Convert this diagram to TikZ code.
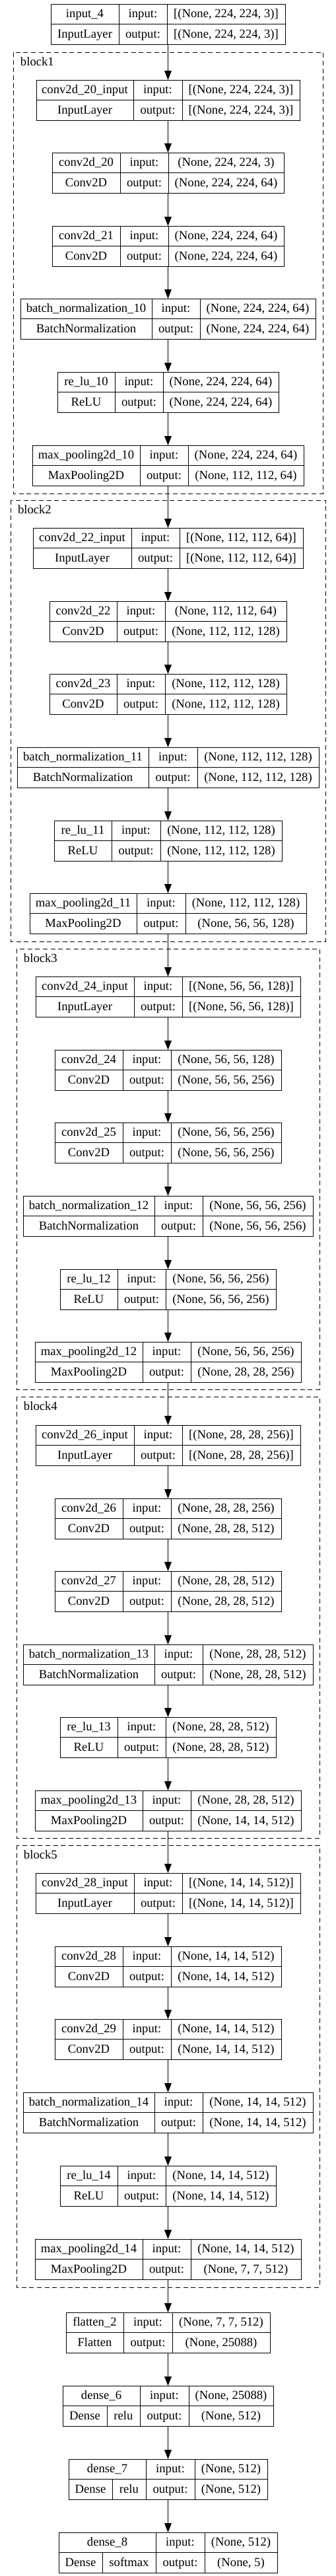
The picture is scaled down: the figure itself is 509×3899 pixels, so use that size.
\documentclass[tikz,border=0pt]{standalone}
\usepackage{fontspec}
\setmainfont{Liberation Serif}
\usetikzlibrary{arrows.meta}
\tikzset{
  recbox/.style={draw=black, line width=0.75pt, inner sep=0pt, outer sep=0pt},
  div/.style={draw=black, line width=0.75pt},
  txt/.style={anchor=base, inner sep=0pt, outer sep=0pt, font=\fontsize{14pt}{16pt}\selectfont},
  arr/.style={draw=black, line width=0.75pt, -{Triangle[length=10.5pt,width=8pt]}},
  cluster/.style={draw=black, line width=0.75pt, dash pattern=on 5.25pt off 3.5pt},
  lbl/.style={txt, anchor=base west}
}
% #1 name #2 top #3 left #4 d1 #5 d2 #6 nametext #7 typetext #8 in #9 out
\newcommand\rec[9]{%
  \pgfmathsetmacro\rw{(509-2*#3)*0.75}%
  \node[recbox, minimum width=\rw pt, minimum height=45.75pt] (#1) at (254.5,#2+30.5) {};
  \draw[div] (#4,#2) -- (#4,#2+61) (#5,#2) -- (#5,#2+61) (#3,#2+30.5) -- (509-#3,#2+30.5);
  \node[txt] (#1n) at ({(#3+#4)/2},#2+20.55) {#6};
  \node[txt] (#1t) at ({(#3+#4)/2},#2+51.05) {#7};
  \node[txt] (#1il) at ({(#4+#5)/2},#2+20.55) {input:};
  \node[txt] (#1ol) at ({(#4+#5)/2},#2+51.05) {output:};
  \node[txt] (#1i) at ({(#5+509-#3)/2},#2+20.55) {#8};
  \node[txt] (#1o) at ({(#5+509-#3)/2},#2+51.05) {#9};
}
% #1 name #2 top #3 left #4 dsub #5 d1 #6 d2 #7 nametext #8 activation #9 out ; input text in \din
\newcommand\drec[9]{%
  \pgfmathsetmacro\rw{(509-2*#3)*0.75}%
  \node[recbox, minimum width=\rw pt, minimum height=45.75pt] (#1) at (254.5,#2+30.5) {};
  \draw[div] (#5,#2) -- (#5,#2+61) (#6,#2) -- (#6,#2+61) (#3,#2+30.5) -- (509-#3,#2+30.5)
             (#4,#2+30.5) -- (#4,#2+61);
  \node[txt] (#1n) at ({(#3+#5)/2},#2+20.55) {#7};
  \node[txt] (#1t) at ({(#3+#4)/2},#2+51.05) {Dense};
  \node[txt] (#1a) at ({(#4+#5)/2},#2+51.05) {#8};
  \node[txt] (#1il) at ({(#5+#6)/2},#2+20.55) {input:};
  \node[txt] (#1ol) at ({(#5+#6)/2},#2+51.05) {output:};
  \node[txt] (#1i) at ({(#6+509-#3)/2},#2+20.55) {\din};
  \node[txt] (#1o) at ({(#6+509-#3)/2},#2+51.05) {#9};
}
\begin{document}
\begin{tikzpicture}[x=0.75pt,y=-0.75pt]
\fill[white] (0,0) rectangle (509,3899);
\path[use as bounding box] (0,0) rectangle (509,3899);

% clusters
\draw[cluster] (20,79) rectangle (489,747);
\node[lbl] (b1l) at (31,99) {block1};
\draw[cluster] (16,757) rectangle (493,1425);
\node[lbl] (b2l) at (27,777) {block2};
\draw[cluster] (25,1436) rectangle (484,2103);
\node[lbl] (b3l) at (36,1456) {block3};
\draw[cluster] (25,2114) rectangle (484,2782);
\node[lbl] (b4l) at (36,2134) {block4};
\draw[cluster] (25,2793) rectangle (484,3462);
\node[lbl] (b5l) at (36,2813) {block5};

\rec{in4}{6}{77}{180}{253}{input\_4}{InputLayer}{[(None, 224, 224, 3)]}{[(None, 224, 224, 3)]}
% block1
\rec{c20in}{121}{55}{202}{276}{conv2d\_20\_input}{InputLayer}{[(None, 224, 224, 3)]}{[(None, 224, 224, 3)]}
\rec{c20}{231}{79}{182}{255}{conv2d\_20}{Conv2D}{(None, 224, 224, 3)}{(None, 224, 224, 64)}
\rec{c21}{342}{79}{182}{255}{conv2d\_21}{Conv2D}{(None, 224, 224, 64)}{(None, 224, 224, 64)}
\rec{bn10}{452}{31}{230}{303}{batch\_normalization\_10}{BatchNormalization}{(None, 224, 224, 64)}{(None, 224, 224, 64)}
\rec{re10}{563}{87}{174}{247}{re\_lu\_10}{ReLU}{(None, 224, 224, 64)}{(None, 224, 224, 64)}
\rec{mp10}{674}{49}{212}{285}{max\_pooling2d\_10}{MaxPooling2D}{(None, 224, 224, 64)}{(None, 112, 112, 64)}
% block2
\rec{c22in}{799}{50}{199}{272}{conv2d\_22\_input}{InputLayer}{[(None, 112, 112, 64)]}{[(None, 112, 112, 64)]}
\rec{c22}{910}{75}{177}{250}{conv2d\_22}{Conv2D}{(None, 112, 112, 64)}{(None, 112, 112, 128)}
\rec{c23}{1020}{75}{177}{250}{conv2d\_23}{Conv2D}{(None, 112, 112, 128)}{(None, 112, 112, 128)}
\rec{bn11}{1131}{26}{225}{299}{batch\_normalization\_11}{BatchNormalization}{(None, 112, 112, 128)}{(None, 112, 112, 128)}
\rec{re11}{1242}{82}{169}{243}{re\_lu\_11}{ReLU}{(None, 112, 112, 128)}{(None, 112, 112, 128)}
\rec{mp11}{1352}{45}{207}{281}{max\_pooling2d\_11}{MaxPooling2D}{(None, 112, 112, 128)}{(None, 56, 56, 128)}
% block3
\rec{c24in}{1478}{54}{203}{276}{conv2d\_24\_input}{InputLayer}{[(None, 56, 56, 128)]}{[(None, 56, 56, 128)]}
\rec{c24}{1589}{83}{186}{259}{conv2d\_24}{Conv2D}{(None, 56, 56, 128)}{(None, 56, 56, 256)}
\rec{c25}{1699}{83}{186}{259}{conv2d\_25}{Conv2D}{(None, 56, 56, 256)}{(None, 56, 56, 256)}
\rec{bn12}{1810}{35}{234}{307}{batch\_normalization\_12}{BatchNormalization}{(None, 56, 56, 256)}{(None, 56, 56, 256)}
\rec{re12}{1921}{91}{178}{251}{re\_lu\_12}{ReLU}{(None, 56, 56, 256)}{(None, 56, 56, 256)}
\rec{mp12}{2031}{53}{216}{289}{max\_pooling2d\_12}{MaxPooling2D}{(None, 56, 56, 256)}{(None, 28, 28, 256)}
% block4
\rec{c26in}{2157}{54}{203}{276}{conv2d\_26\_input}{InputLayer}{[(None, 28, 28, 256)]}{[(None, 28, 28, 256)]}
\rec{c26}{2268}{83}{186}{259}{conv2d\_26}{Conv2D}{(None, 28, 28, 256)}{(None, 28, 28, 512)}
\rec{c27}{2378}{83}{186}{259}{conv2d\_27}{Conv2D}{(None, 28, 28, 512)}{(None, 28, 28, 512)}
\rec{bn13}{2489}{35}{234}{307}{batch\_normalization\_13}{BatchNormalization}{(None, 28, 28, 512)}{(None, 28, 28, 512)}
\rec{re13}{2599}{91}{178}{251}{re\_lu\_13}{ReLU}{(None, 28, 28, 512)}{(None, 28, 28, 512)}
\rec{mp13}{2710}{53}{216}{289}{max\_pooling2d\_13}{MaxPooling2D}{(None, 28, 28, 512)}{(None, 14, 14, 512)}
% block5
\rec{c28in}{2835}{54}{203}{276}{conv2d\_28\_input}{InputLayer}{[(None, 14, 14, 512)]}{[(None, 14, 14, 512)]}
\rec{c28}{2946}{83}{186}{259}{conv2d\_28}{Conv2D}{(None, 14, 14, 512)}{(None, 14, 14, 512)}
\rec{c29}{3056}{83}{186}{259}{conv2d\_29}{Conv2D}{(None, 14, 14, 512)}{(None, 14, 14, 512)}
\rec{bn14}{3167}{35}{234}{307}{batch\_normalization\_14}{BatchNormalization}{(None, 14, 14, 512)}{(None, 14, 14, 512)}
\rec{re14}{3278}{91}{178}{251}{re\_lu\_14}{ReLU}{(None, 14, 14, 512)}{(None, 14, 14, 512)}
\rec{mp14}{3389}{53}{216}{289}{max\_pooling2d\_14}{MaxPooling2D}{(None, 14, 14, 512)}{(None, 7, 7, 512)}
% head
\rec{fl2}{3500}{100}{187}{261}{flatten\_2}{Flatten}{(None, 7, 7, 512)}{(None, 25088)}
\def\din{(None, 25088)}
\drec{d6}{3611}{95}{162}{212}{286}{dense\_6}{relu}{(None, 512)}
\def\din{(None, 512)}
\drec{d7}{3722}{104}{170}{221}{295}{dense\_7}{relu}{(None, 512)}
\def\din{(None, 512)}
\drec{d8}{3833}{89}{155}{236}{310}{dense\_8}{softmax}{(None, 5)}

% connectors
\foreach \a/\b in {in4/c20in, c20in/c20, c20/c21, c21/bn10, bn10/re10, re10/mp10,
  mp10/c22in, c22in/c22, c22/c23, c23/bn11, bn11/re11, re11/mp11,
  mp11/c24in, c24in/c24, c24/c25, c25/bn12, bn12/re12, re12/mp12,
  mp12/c26in, c26in/c26, c26/c27, c27/bn13, bn13/re13, re13/mp13,
  mp13/c28in, c28in/c28, c28/c29, c29/bn14, bn14/re14, re14/mp14,
  mp14/fl2, fl2/d6, d6/d7, d7/d8}
  \draw[arr] (\a) -- (\b);
\end{tikzpicture}
\end{document}
